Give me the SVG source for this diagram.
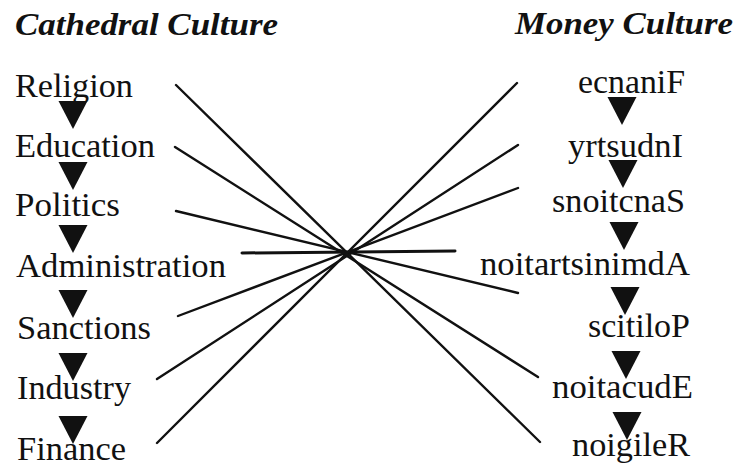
<svg xmlns="http://www.w3.org/2000/svg" width="739" height="468" viewBox="0 0 739 468">
<style>
.title{font-family:"Liberation Serif","Times New Roman",serif;font-weight:bold;font-style:italic;font-size:31px;fill:#111}
.lbl{font-family:"Liberation Serif","Times New Roman",serif;font-size:34px;fill:#111}
.tri{fill:#111}
.con{stroke:#111;stroke-width:2.4;fill:none;stroke-linecap:round}
</style>
<defs>
<path id="t" class="tri" d="M-14.5,0 L14.5,0 L0,28 Z"/>
</defs>
<rect width="739" height="468" fill="#fff"/>
<g id="titles">
<text id="title-cathedral" class="title" x="15" y="35" textLength="263" lengthAdjust="spacingAndGlyphs">Cathedral Culture</text>
<text id="title-money" class="title" x="515" y="34" textLength="218" lengthAdjust="spacingAndGlyphs">Money Culture</text>
</g>
<g id="connectors">
<line class="con" x1="176" y1="85" x2="540" y2="442"/>
<line class="con" x1="175" y1="147" x2="538" y2="377"/>
<line class="con" x1="176" y1="211" x2="518" y2="293"/>
<line class="con" x1="242" y1="253" x2="455" y2="251" style="stroke-width:3"/>
<line class="con" x1="178" y1="316" x2="518" y2="188"/>
<line class="con" x1="157" y1="379" x2="518" y2="145"/>
<line class="con" x1="157" y1="443" x2="517" y2="83"/>
</g>
<g id="left-arrows">
<use href="#t" x="73" y="101"/>
<use href="#t" x="73" y="162"/>
<use href="#t" x="73" y="225"/>
<use href="#t" x="73" y="290"/>
<use href="#t" x="73" y="353"/>
<use href="#t" x="73" y="416"/>
</g>
<g id="right-arrows">
<use href="#t" x="622" y="97"/>
<use href="#t" x="623" y="160"/>
<use href="#t" x="624" y="222"/>
<use href="#t" x="625" y="287"/>
<use href="#t" x="626" y="351"/>
<use href="#t" x="627" y="412"/>
</g>
<g id="node-religion"><text class="lbl" x="15" y="97" textLength="118" lengthAdjust="spacingAndGlyphs">Religion</text></g>
<g id="node-education"><text class="lbl" x="15" y="157" textLength="140" lengthAdjust="spacingAndGlyphs">Education</text></g>
<g id="node-politics"><text class="lbl" x="15" y="216" textLength="105" lengthAdjust="spacingAndGlyphs">Politics</text></g>
<g id="node-administration"><text class="lbl" x="16" y="277" textLength="210" lengthAdjust="spacingAndGlyphs">Administration</text></g>
<g id="node-sanctions"><text class="lbl" x="17" y="339" textLength="134" lengthAdjust="spacingAndGlyphs">Sanctions</text></g>
<g id="node-industry"><text class="lbl" x="17" y="399" textLength="114" lengthAdjust="spacingAndGlyphs">Industry</text></g>
<g id="node-finance"><text class="lbl" x="17" y="460" textLength="109" lengthAdjust="spacingAndGlyphs">Finance</text></g>
<g id="node-ecnanif"><text class="lbl" x="578" y="93" textLength="107" lengthAdjust="spacingAndGlyphs">ecnaniF</text></g>
<g id="node-yrtsudni"><text class="lbl" x="568" y="157" textLength="115" lengthAdjust="spacingAndGlyphs">yrtsudnI</text></g>
<g id="node-snoitcnas"><text class="lbl" x="552" y="212" textLength="133" lengthAdjust="spacingAndGlyphs">snoitcnaS</text></g>
<g id="node-noitartsinimda"><text class="lbl" x="480" y="275" textLength="210" lengthAdjust="spacingAndGlyphs">noitartsinimdA</text></g>
<g id="node-scitilop"><text class="lbl" x="588" y="337" textLength="102" lengthAdjust="spacingAndGlyphs">scitiloP</text></g>
<g id="node-noitacude"><text class="lbl" x="552" y="398" textLength="141" lengthAdjust="spacingAndGlyphs">noitacudE</text></g>
<g id="node-noigiler"><text class="lbl" x="572" y="456" textLength="118" lengthAdjust="spacingAndGlyphs">noigileR</text></g>
</svg>
